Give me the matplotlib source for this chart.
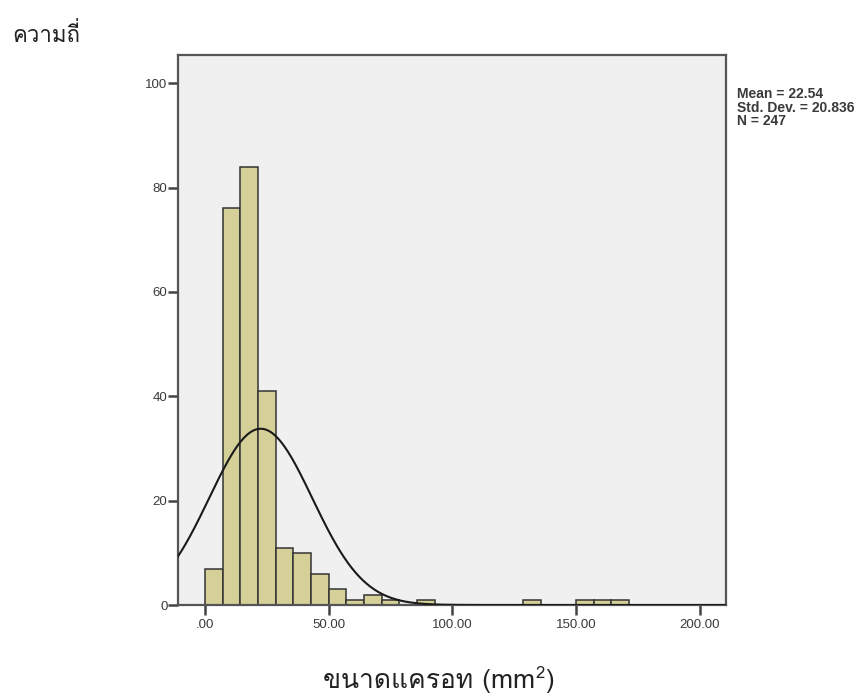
import numpy as np
import matplotlib
matplotlib.use("Agg")
import matplotlib.pyplot as plt

# histogram of carrot sizes (bin width 50/7 as in the SPSS output)
bin_width = 50 / 7
counts = [7, 76, 84, 41, 11, 10, 6, 3, 1, 2, 1, 0, 1, 0, 0, 0, 0, 0, 1, 0, 0, 1, 1, 1]
mean = 22.54
std = 20.836
n = 247

xticks = [0, 50, 100, 150, 200]
xticklabels = [".00", "50.00", "100.00", "150.00", "200.00"]
yticks = [0, 20, 40, 60, 80, 100]

thai = ["Loma", "DejaVu Sans"]
dark = "#222222"

fig = plt.figure(figsize=(8.61, 6.96), dpi=100)
ax = fig.add_axes([0.2067, 0.1307, 0.6365, 0.7903])
ax.set_facecolor("#f0f0f0")

edges = np.arange(len(counts)) * bin_width
ax.bar(edges, counts, width=bin_width, align="edge",
       color="#d4d098", edgecolor="#333333", linewidth=1.1, zorder=2)

# normal curve scaled to the histogram
xs = np.linspace(-11, 211, 600)
ys = n * bin_width / (std * np.sqrt(2 * np.pi)) * np.exp(-0.5 * ((xs - mean) / std) ** 2)
ax.plot(xs, ys, color="#1a1a1a", lw=1.5, zorder=3)

ax.set_xlim(-10.9, 210.6)
ax.set_ylim(0, 105.4)
ax.set_xticks(xticks)
ax.set_xticklabels(xticklabels)
ax.set_yticks(yticks)
for s in ax.spines.values():
    s.set_color("#555555")
    s.set_linewidth(1.6)
ax.tick_params(direction="out", length=7, width=1.8, color="#444444",
               labelsize=9.5, labelcolor="#3a3a3a")
ax.tick_params(axis="y", pad=0.5)
ax.tick_params(axis="x", pad=3)
for lab in ax.get_xticklabels() + ax.get_yticklabels():
    lab.set_family("Liberation Sans")

fig.text(0.8555, 0.8745, "Mean = %.2f\nStd. Dev. = %.3f\nN = %d" % (mean, std, n),
         fontsize=10, family="Liberation Sans", weight="bold", color="#3a3a3a",
         va="top", ha="left", linespacing=0.93)

fig.text(0.014, 0.9397, "ความถี่", fontsize=16, family=thai, color=dark,
         va="baseline", ha="left")

# x label with a raised superscript, built from three pieces
t1 = fig.text(0.375, 0.0115, "ขนาดแครอท (mm", fontsize=19, family=thai,
              color=dark, va="baseline", ha="left")
sup = plt.annotate("2", xy=(1, 1), xycoords=t1, xytext=(0.5, 2.5),
                   textcoords="offset points", fontsize=12, family=thai,
                   color=dark, va="top", ha="left")
plt.annotate(")", xy=(1, 0), xycoords=(sup, t1), xytext=(0.5, 0),
             textcoords="offset points", fontsize=19, family=thai,
             color=dark, va="bottom", ha="left")

fig.savefig("out.png")
